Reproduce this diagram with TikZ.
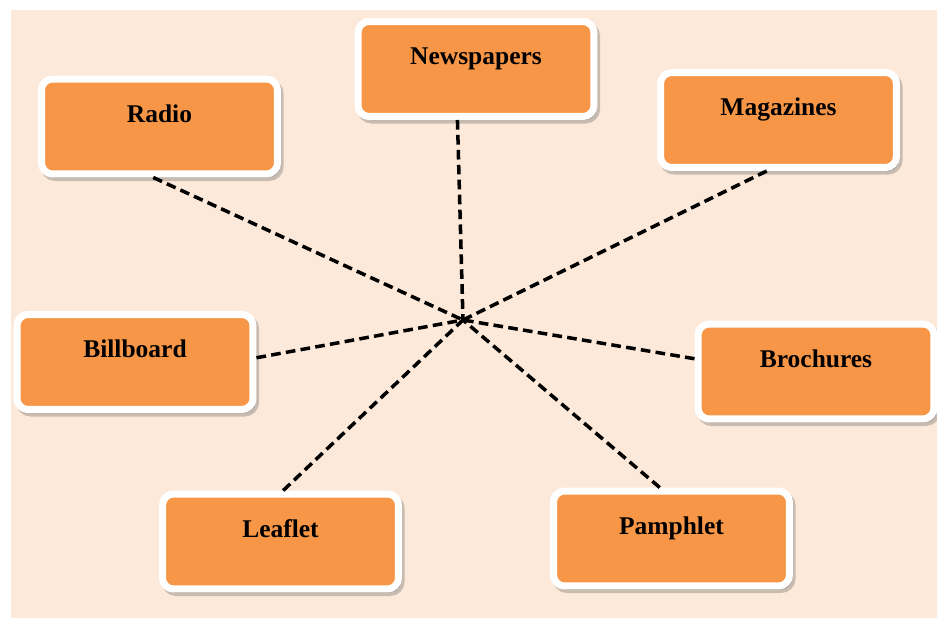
\documentclass[tikz,border=0pt]{standalone}
\usepackage{fontspec}
\setmainfont{Liberation Serif}
\usepackage{tikz}
\usetikzlibrary{shapes,positioning,shadows}
\definecolor{peach}{HTML}{FDE9D9}
\definecolor{boxorange}{HTML}{F79646}

\begin{document}
\begin{tikzpicture}[x=0.02cm, y=-0.02cm,
    media/.style={draw=white, line width=0.14cm, fill=boxorange, rounded corners=0.22cm,
        minimum width=4.72cm, minimum height=1.9cm, inner sep=0pt,
        text height=8pt, text depth=13pt, font=\fontsize{14.5}{16}\selectfont\bfseries,
        drop shadow={draw=black!60, fill=black!60, opacity=0.35, shadow xshift=1.5pt, shadow yshift=-2pt}},
    link/.style={dashed, dash pattern=on 5.5pt off 3pt, line width=2pt}]
    \useasboundingbox (0,0) rectangle (937,618);
    \fill[peach] (11,10) rectangle (937,618);

    \coordinate (hub) at (463,320);

    \node[media] (radio) at (159.5,126.5) {Radio};
    \node[media] (news) at (476,69) {Newspapers};
    \node[media] (mag) at (778.5,120) {Magazines};
    \node[media] (bill) at (135,362) {Billboard};
    \node[media] (broch) at (816,371.5) {Brochures};
    \node[media] (leaf) at (280.5,541.5) {Leaflet};
    \node[media] (pamph) at (671.5,538.5) {Pamphlet};

    \draw[link] (radio.-97) -- (hub);
    \draw[link] (news.-110) -- (hub);
    \draw[link] (mag.-103) -- (hub);
    \draw[link] (bill.2) -- (hub);
    \draw[link] (broch.174) -- (hub);
    \draw[link] (leaf.87) -- (hub);
    \draw[link] (pamph.103) -- (hub);

\end{tikzpicture}
\end{document}
